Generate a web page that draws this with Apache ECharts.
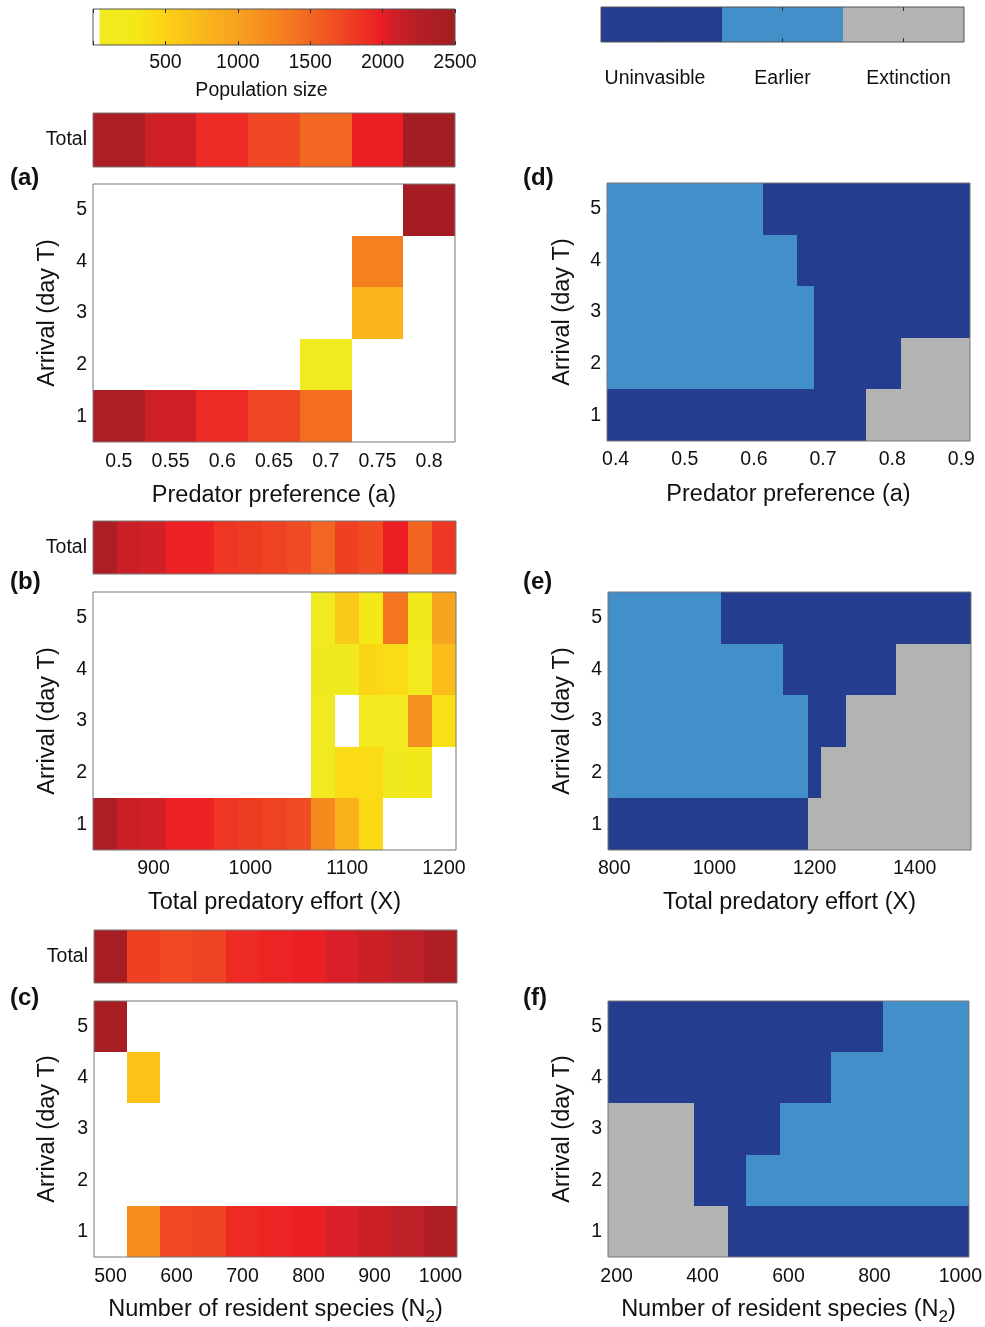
<!DOCTYPE html>
<html>
<head>
<meta charset="utf-8">
<script src="https://cdn.jsdelivr.net/npm/echarts@6/dist/echarts.min.js"></script>
<style>
  html, body { margin: 0; padding: 0; background: #fff; }
  #chart { width: 985px; height: 1327px; }
</style>
</head>
<body>
<div id="chart"></div>
<script>
// ---- data ----
const days = ['1', '2', '3', '4', '5'];

// (a) predator preference
const aCats = ['0.5', '0.55', '0.6', '0.65', '0.7', '0.75', '0.8'];
const aTotal = [2380, 2080, 1900, 1720, 1500, 1990, 2470];
const aRows = [ // day 1..5, null = no population
  [2380, 2080, 1900, 1720, 1440, null, null],
  [null, null, null, null, 100, null, null],
  [null, null, null, null, null, 780, null],
  [null, null, null, null, null, 1300, null],
  [null, null, null, null, null, null, 2460]
];

// (b) total predatory effort
const bCats = ['850', '875', '900', '925', '950', '975', '1000', '1025', '1050', '1075', '1100', '1125', '1150', '1175', '1200'];
const bLabels = ['900', '1000', '1100', '1200'];
const bTotal = [2350, 2120, 2070, 1960, 1960, 1830, 1790, 1750, 1680, 1510, 1760, 1690, 1990, 1520, 1820];
const bRows = [
  [2350, 2120, 2070, 1960, 1960, 1830, 1790, 1750, 1680, 1220, 820, 440, null, null, null],
  [null, null, null, null, null, null, null, null, null, 100, 420, 420, 130, 250, null],
  [null, null, null, null, null, null, null, null, null, 100, null, 150, 150, 1150, 370],
  [null, null, null, null, null, null, null, null, null, 120, 120, 460, 410, 150, 700],
  [null, null, null, null, null, null, null, null, null, 100, 580, 280, 1380, 250, 980]
];

// (c) number of resident species
const cCats = ['500', '550', '600', '650', '700', '750', '800', '850', '900', '950', '1000'];
const cLabels = ['500', '600', '700', '800', '900', '1000'];
const cTotal = [2450, 1760, 1700, 1740, 1900, 1950, 1980, 2040, 2100, 2180, 2330];
const cRows = [
  [null, 1190, 1710, 1740, 1900, 1950, 1980, 2040, 2100, 2180, 2330],
  [null, null, null, null, null, null, null, null, null, null, null],
  [null, null, null, null, null, null, null, null, null, null, null],
  [null, 650, null, null, null, null, null, null, null, null, null],
  [2450, null, null, null, null, null, null, null, null, null, null]
];

// outcome classes: 0 Uninvasible, 1 Earlier, 2 Extinction
const outcomeNames = ['Uninvasible', 'Earlier', 'Extinction'];

const dCats = ['0.4', '0.425', '0.45', '0.475', '0.5', '0.525', '0.55', '0.575', '0.6', '0.625', '0.65',
  '0.675', '0.7', '0.725', '0.75', '0.775', '0.8', '0.825', '0.85', '0.875', '0.9'];
const dLabels = ['0.4', '0.5', '0.6', '0.7', '0.8', '0.9'];
const dRows = [
  [0, 0, 0, 0, 0, 0, 0, 0, 0, 0, 0, 0, 0, 0, 0, 2, 2, 2, 2, 2, 2],
  [1, 1, 1, 1, 1, 1, 1, 1, 1, 1, 1, 1, 0, 0, 0, 0, 0, 2, 2, 2, 2],
  [1, 1, 1, 1, 1, 1, 1, 1, 1, 1, 1, 1, 0, 0, 0, 0, 0, 0, 0, 0, 0],
  [1, 1, 1, 1, 1, 1, 1, 1, 1, 1, 1, 0, 0, 0, 0, 0, 0, 0, 0, 0, 0],
  [1, 1, 1, 1, 1, 1, 1, 1, 1, 0, 0, 0, 0, 0, 0, 0, 0, 0, 0, 0, 0]
];

const eCats = ['800', '825', '850', '875', '900', '925', '950', '975', '1000', '1025', '1050', '1075', '1100', '1125', '1150',
  '1175', '1200', '1225', '1250', '1275', '1300', '1325', '1350', '1375', '1400', '1425', '1450', '1475', '1500'];
const eLabels = ['800', '1000', '1200', '1400'];
const eRows = [
  [0, 0, 0, 0, 0, 0, 0, 0, 0, 0, 0, 0, 0, 0, 0, 0, 2, 2, 2, 2, 2, 2, 2, 2, 2, 2, 2, 2, 2],
  [1, 1, 1, 1, 1, 1, 1, 1, 1, 1, 1, 1, 1, 1, 1, 1, 0, 2, 2, 2, 2, 2, 2, 2, 2, 2, 2, 2, 2],
  [1, 1, 1, 1, 1, 1, 1, 1, 1, 1, 1, 1, 1, 1, 1, 1, 0, 0, 0, 2, 2, 2, 2, 2, 2, 2, 2, 2, 2],
  [1, 1, 1, 1, 1, 1, 1, 1, 1, 1, 1, 1, 1, 1, 0, 0, 0, 0, 0, 0, 0, 0, 0, 2, 2, 2, 2, 2, 2],
  [1, 1, 1, 1, 1, 1, 1, 1, 1, 0, 0, 0, 0, 0, 0, 0, 0, 0, 0, 0, 0, 0, 0, 0, 0, 0, 0, 0, 0]
];

const fCats = ['200', '240', '280', '320', '360', '400', '440', '480', '520', '560', '600',
  '640', '680', '720', '760', '800', '840', '880', '920', '960', '1000'];
const fLabels = ['200', '400', '600', '800', '1000'];
const fRows = [
  [2, 2, 2, 2, 2, 2, 2, 0, 0, 0, 0, 0, 0, 0, 0, 0, 0, 0, 0, 0, 0],
  [2, 2, 2, 2, 2, 0, 0, 0, 1, 1, 1, 1, 1, 1, 1, 1, 1, 1, 1, 1, 1],
  [2, 2, 2, 2, 2, 0, 0, 0, 0, 0, 1, 1, 1, 1, 1, 1, 1, 1, 1, 1, 1],
  [0, 0, 0, 0, 0, 0, 0, 0, 0, 0, 0, 0, 0, 1, 1, 1, 1, 1, 1, 1, 1],
  [0, 0, 0, 0, 0, 0, 0, 0, 0, 0, 0, 0, 0, 0, 0, 0, 1, 1, 1, 1, 1]
];

const popRange = [0, 2500];

// ---- styles ----
const FONT = 'Liberation Sans';
const TICK_FS = 19.5;
const NAME_FS = 23.5;
const outcomeColors = ['#253d8f', '#428fca', '#b3b3b3'];
const popStops = [
  [0, '#ffffff'], [40, '#ffffff'], [50, '#f0ea22'], [300, '#f4e817'], [450, '#fbd714'],
  [600, '#fbc717'], [800, '#f9b31b'], [1000, '#f7a21f'], [1250, '#f5861f'], [1500, '#f26722'],
  [1750, '#ef4223'], [2000, '#ec1c24'], [2050, '#d42027'], [2250, '#b41f27'], [2500, '#a21d21']
];

function hex2rgb(h) {
  return [1, 3, 5].map(i => parseInt(h.substr(i, 2), 16));
}
function popColor(v) {
  for (let i = 1; i < popStops.length; i++) {
    if (v <= popStops[i][0]) {
      const [v0, c0] = popStops[i - 1], [v1, c1] = popStops[i];
      const t = (v - v0) / (v1 - v0);
      const a = hex2rgb(c0), b = hex2rgb(c1);
      return 'rgb(' + a.map((x, k) => Math.round(x + (b[k] - x) * t)).join(',') + ')';
    }
  }
  return popStops[popStops.length - 1][1];
}
const cmap = [];
for (let v = 0; v <= 2500; v += 25) cmap.push(popColor(v));

const grids = [], xAxes = [], yAxes = [], series = [];
const popSeries = [], outSeries = [];
const txt = { fontFamily: FONT, color: '#111' };

function addGrid(left, top, width, height) {
  grids.push({ left, top, width, height, show: true, borderColor: '#777', borderWidth: 1, z: 5 });
  return grids.length - 1;
}

function toCells(rows) {
  const out = [];
  rows.forEach((row, yi) => row.forEach((v, xi) => { if (v != null) out.push([xi, yi, v]); }));
  return out;
}

// heatmap cells as custom rects snapped to whole pixels (no hairline seams)
function cellItem(params, api) {
  const c = api.coord([api.value(0), api.value(1)]);
  const s = api.size([1, 1]);
  const x0 = Math.round(c[0] - s[0] / 2), x1 = Math.round(c[0] + s[0] / 2);
  const y0 = Math.round(c[1] - s[1] / 2), y1 = Math.round(c[1] + s[1] / 2);
  return {
    type: 'rect',
    shape: { x: x0, y: y0, width: x1 - x0, height: y1 - y0 },
    style: { fill: api.visual('color') }
  };
}

function heat(xi, yi, cells, pop) {
  series.push({
    type: 'custom', xAxisIndex: xi, yAxisIndex: yi, data: cells,
    encode: { x: 0, y: 1 }, renderItem: cellItem, silent: true, z: 2
  });
  (pop ? popSeries : outSeries).push(series.length - 1);
}

function panel(rect, cats, shown, rows, pop, opt) {
  const gi = addGrid(...rect);
  const xi = xAxes.length, yi = yAxes.length;
  xAxes.push({
    gridIndex: gi, type: 'category', data: cats,
    axisLine: { show: false }, axisTick: { show: false }, splitLine: { show: false },
    axisLabel: Object.assign({ interval: (i, v) => shown.indexOf(v) >= 0, margin: opt.xMargin, fontSize: TICK_FS }, txt),
    name: opt.xName, nameLocation: 'middle', nameGap: opt.xGap,
    nameTextStyle: Object.assign({ fontSize: NAME_FS, rich: opt.rich }, txt)
  });
  yAxes.push({
    gridIndex: gi, type: 'category', data: days,
    axisLine: { show: false }, axisTick: { show: false }, splitLine: { show: false },
    axisLabel: Object.assign({ margin: opt.yMargin, fontSize: TICK_FS }, txt),
    name: 'Arrival (day T)', nameLocation: 'middle', nameRotate: 90, nameGap: opt.yGap,
    nameTextStyle: Object.assign({ fontSize: NAME_FS }, txt)
  });
  heat(xi, yi, toCells(rows), pop);
}

function totalStrip(rect, cats, total) {
  const gi = addGrid(...rect);
  const xi = xAxes.length, yi = yAxes.length;
  xAxes.push({ gridIndex: gi, type: 'category', data: cats, show: false });
  yAxes.push({
    gridIndex: gi, type: 'category', data: ['Total'],
    axisLine: { show: false }, axisTick: { show: false },
    axisLabel: Object.assign({ margin: 6, fontSize: TICK_FS }, txt)
  });
  heat(xi, yi, total.map((v, i) => [i, 0, v]), true);
}

// left colour bar (population size)
{
  const gi = addGrid(93, 9, 362, 36);
  grids[gi].borderColor = '#555';
  const xi = xAxes.length, yi = yAxes.length;
  const base = {
    gridIndex: gi, type: 'value', min: popRange[0], max: popRange[1], interval: 500,
    axisLine: { show: false }, splitLine: { show: false }, z: 10,
    axisTick: { show: true, inside: true, length: 4, lineStyle: { color: '#333' } }
  };
  xAxes.push(Object.assign({}, base, {
    axisLabel: Object.assign({ margin: 8, fontSize: TICK_FS, formatter: v => (v === 0 ? '' : v) }, txt),
    name: 'Population size', nameLocation: 'middle', nameGap: 36,
    nameTextStyle: Object.assign({ fontSize: TICK_FS, padding: [0, 25, 0, 0] }, txt)
  }));
  xAxes.push(Object.assign({}, base, { position: 'top', axisLabel: { show: false } }));
  yAxes.push({ gridIndex: gi, type: 'value', min: 0, max: 1, show: false });
  series.push({
    type: 'custom', xAxisIndex: xi, yAxisIndex: yi, silent: true,
    data: [[popRange[0], popRange[1]]],
    renderItem: function (params, api) {
      const p0 = api.coord([api.value(0), 0]);
      const p1 = api.coord([api.value(1), 1]);
      const span = popRange[1] - popRange[0];
      const stops = popStops.map(s => ({ offset: (s[0] - popRange[0]) / span, color: s[1] }));
      return {
        type: 'rect',
        shape: { x: p0[0], y: p1[1], width: p1[0] - p0[0], height: p0[1] - p1[1] },
        style: { fill: new echarts.graphic.LinearGradient(0, 0, 1, 0, stops) }
      };
    }
  });
}

const subRich = { s: { fontSize: 17, fontFamily: FONT, color: '#111', padding: [16, 0, 0, 0] } };

// left column
totalStrip([93, 113, 362, 54], aCats, aTotal);
panel([93, 184, 362, 258], aCats, aCats, aRows, true,
  { xMargin: 10, xGap: 42, xName: 'Predator preference (a)', yMargin: 6, yGap: 33 });
totalStrip([93, 521, 363, 53], bCats, bTotal);
panel([93, 592, 363, 258], bCats, bLabels, bRows, true,
  { xMargin: 9, xGap: 41, xName: 'Total predatory effort (X)', yMargin: 6, yGap: 33 });
totalStrip([94, 930, 363, 53], cCats, cTotal);
panel([94, 1001, 363, 258], cCats, cLabels, cRows, true,
  { xMargin: 10, xGap: 36, xName: 'Number of resident species (N{s|2})', yMargin: 6, yGap: 34, rich: subRich });

// right colour bar (outcome classes)
{
  const gi = addGrid(601, 7, 363, 35);
  grids[gi].borderColor = '#555';
  const xi = xAxes.length, yi = yAxes.length;
  const base = {
    gridIndex: gi, type: 'category', data: outcomeNames, z: 10,
    axisLine: { show: false }, splitLine: { show: false },
    axisTick: { show: true, inside: true, alignWithLabel: true, length: 4, lineStyle: { color: '#333' } }
  };
  xAxes.push(Object.assign({}, base, {
    axisLabel: Object.assign({
      interval: 0, margin: 27, fontSize: TICK_FS,
      formatter: (v, i) => '{l' + i + '|' + v + '}',
      rich: {
        l0: { fontSize: TICK_FS, fontFamily: FONT, color: '#111', padding: [0, 13, 0, 0] },
        l1: { fontSize: TICK_FS, fontFamily: FONT, color: '#111' },
        l2: { fontSize: TICK_FS, fontFamily: FONT, color: '#111', padding: [0, 0, 0, 10] }
      }
    }, txt)
  }));
  xAxes.push(Object.assign({}, base, { position: 'top', axisLabel: { show: false } }));
  yAxes.push({ gridIndex: gi, type: 'category', data: [''], show: false });
  heat(xi, yi, outcomeNames.map((n, i) => [i, 0, i]), false);
}

// right column
panel([607, 183, 363, 258], dCats, dLabels, dRows, false,
  { xMargin: 9, xGap: 42, xName: 'Predator preference (a)', yMargin: 6, yGap: 32 });
panel([608, 592, 363, 258], eCats, eLabels, eRows, false,
  { xMargin: 9, xGap: 41, xName: 'Total predatory effort (X)', yMargin: 6, yGap: 33 });
panel([608, 1001, 363, 258], fCats, fLabels, fRows, false,
  { xMargin: 10, xGap: 36, xName: 'Number of resident species (N{s|2})', yMargin: 6, yGap: 33, rich: subRich });

const letters = [['(a)', 10, 166], ['(b)', 10, 570], ['(c)', 10, 986], ['(d)', 523, 166], ['(e)', 523, 570], ['(f)', 523, 986]];

const chart = echarts.init(document.getElementById('chart'), null, { renderer: 'canvas' });
chart.setOption({
  animation: false,
  backgroundColor: '#fff',
  textStyle: { fontFamily: FONT },
  grid: grids,
  xAxis: xAxes,
  yAxis: yAxes,
  visualMap: [
    { type: 'continuous', show: false, min: 0, max: 2500, dimension: 2, seriesIndex: popSeries, inRange: { color: cmap } },
    {
      type: 'piecewise', show: false, dimension: 2, seriesIndex: outSeries,
      pieces: outcomeColors.map((c, i) => ({ value: i, color: c }))
    }
  ],
  graphic: letters.map(l => ({
    type: 'text', left: l[1], top: l[2], z: 20,
    style: { text: l[0], font: 'bold 24px "Liberation Sans"', fill: '#111' }
  })),
  series: series
});
</script>
</body>
</html>
